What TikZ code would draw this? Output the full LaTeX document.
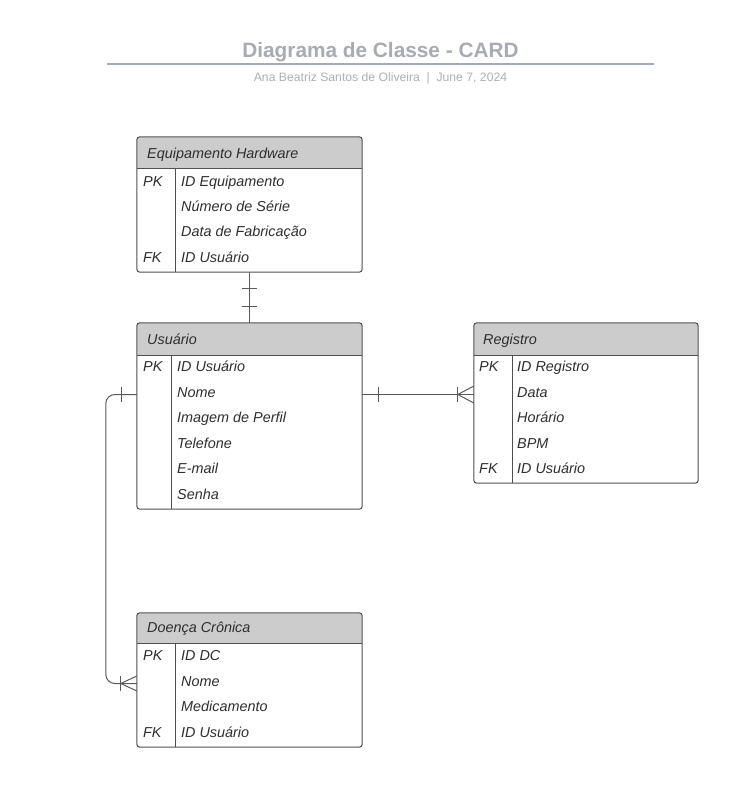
\documentclass[tikz,border=0pt]{standalone}
\usepackage{fontspec}
\setmainfont{Liberation Sans}
\definecolor{titlec}{HTML}{A6ABB4}
\definecolor{rulec}{HTML}{A3ABBA}
\definecolor{subc}{HTML}{ABAFB7}
\definecolor{txtc}{HTML}{2E2E2E}
\definecolor{bordc}{HTML}{505050}
\definecolor{connc}{HTML}{5A5A5A}
\definecolor{hdrc}{HTML}{CCCCCC}
\tikzset{
  tblbox/.style={rectangle, draw=none, inner sep=0pt},
  border/.style={draw=bordc, line width=1pt, rounded corners=3pt},
  txt/.style={anchor=base west, inner sep=0pt, font=\fontsize{14.4}{16}\selectfont\itshape, text=txtc},
  conn/.style={draw=connc, line width=1pt},
}
\newcommand\erframe[3]{%
  \begin{scope}
    \clip[rounded corners=3pt] (#1.north west) rectangle (#1.south east);
    \fill[hdrc] (#1.north west) rectangle ([yshift=-#2pt]#1.north east);
  \end{scope}
  \draw[draw=bordc, line width=1pt] ([yshift=-#2pt]#1.north west) -- ([yshift=-#2pt]#1.north east);
  \draw[draw=bordc, line width=1pt] ([xshift=#3pt,yshift=-#2pt]#1.north west) -- ([xshift=#3pt]#1.south west);
  \draw[border] (#1.north west) rectangle (#1.south east);
}
\begin{document}
\begin{tikzpicture}[x=1pt,y=-1pt]
\useasboundingbox (0,0) rectangle (742,801);
% title
\node[anchor=base, inner sep=0pt, font=\fontsize{20.8}{24}\selectfont\bfseries, text=titlec] (title) at (380.5,57) {Diagrama de Classe - CARD};
\draw[rulec, line width=2pt] (107,63.5) coordinate (r1) -- (654,63.5) coordinate (r2);
\node[anchor=base, inner sep=0pt, font=\fontsize{12.2}{14}\selectfont, text=subc] (sub) at (380.5,81) {Ana Beatriz Santos de Oliveira\hspace{0.55em}|\hspace{0.55em}June 7, 2024};

% tables
\node[tblbox, minimum width=225pt, minimum height=135pt] (eh) at (249.5,204.5) {};
\node[tblbox, minimum width=225pt, minimum height=186pt] (us) at (249.5,416) {};
\node[tblbox, minimum width=224pt, minimum height=160pt] (rg) at (586,403) {};
\node[tblbox, minimum width=225pt, minimum height=134pt] (dc) at (249.5,680) {};

\erframe{eh}{32}{39}
\erframe{us}{33}{35}
\erframe{rg}{33}{39}
\erframe{dc}{31}{39}

% Equipamento Hardware
\node[txt] (eh-h) at (147,158) {Equipamento Hardware};
\node[txt] (eh-pk) at (143,186) {PK};
\node[txt] (eh-1) at (181,186) {ID Equipamento};
\node[txt] (eh-2) at (181,211) {Número de Série};
\node[txt] (eh-3) at (181,236.5) {Data de Fabricação};
\node[txt] (eh-fk) at (143,262) {FK};
\node[txt] (eh-4) at (181,262) {ID Usuário};

% Usuario
\node[txt] (us-h) at (147,344) {Usuário};
\node[txt] (us-pk) at (143,371.5) {PK};
\node[txt] (us-1) at (177,371.5) {ID Usuário};
\node[txt] (us-2) at (177,397) {Nome};
\node[txt] (us-3) at (177,422.5) {Imagem de Perfil};
\node[txt] (us-4) at (177,448) {Telefone};
\node[txt] (us-5) at (177,473.5) {E-mail};
\node[txt] (us-6) at (177,499) {Senha};

% Registro
\node[txt] (rg-h) at (483,344) {Registro};
\node[txt] (rg-pk) at (479,371.5) {PK};
\node[txt] (rg-1) at (517,371.5) {ID Registro};
\node[txt] (rg-2) at (517,397) {Data};
\node[txt] (rg-3) at (517,422.5) {Horário};
\node[txt] (rg-4) at (517,448) {BPM};
\node[txt] (rg-fk) at (479,473.5) {FK};
\node[txt] (rg-5) at (517,473.5) {ID Usuário};

% Doenca Cronica
\node[txt] (dc-h) at (147,632.5) {Doença Crônica};
\node[txt] (dc-pk) at (143,660) {PK};
\node[txt] (dc-1) at (181,660) {ID DC};
\node[txt] (dc-2) at (181,686) {Nome};
\node[txt] (dc-3) at (181,711.5) {Medicamento};
\node[txt] (dc-fk) at (143,737) {FK};
\node[txt] (dc-4) at (181,737) {ID Usuário};

% connector EH - US (one to one)
\draw[conn] (eh.south) -- (us.north);
\draw[conn] ([shift={(-7.5,16)}]eh.south) -- ([shift={(7.5,16)}]eh.south);
\draw[conn] ([shift={(-7.5,-16)}]us.north) -- ([shift={(7.5,-16)}]us.north);

% connector US - RG (one to many)
\coordinate (ur1) at ([yshift=21.5pt]us.east);
\coordinate (ur2) at ([yshift=8.5pt]rg.west);
\draw[conn] (ur1) -- (ur2);
\draw[conn] ([shift={(16,-7.5)}]ur1) -- ([shift={(16,7.5)}]ur1);
\draw[conn] ([shift={(-16,-7.5)}]ur2) -- ([shift={(-16,7.5)}]ur2);
\draw[conn] ([shift={(0,-8.5)}]ur2) -- ([shift={(-16,0)}]ur2) -- ([shift={(0,8.5)}]ur2);

% connector US - DC (one to many)
\coordinate (ud1) at ([yshift=21.5pt]us.west);
\coordinate (ud2) at ([yshift=-3.5pt]dc.west);
\draw[conn, rounded corners=9pt] (ud1) -- ++(-31,0) |- (ud2);
\draw[conn] ([shift={(-15,-7.5)}]ud1) -- ([shift={(-15,7.5)}]ud1);
\draw[conn] ([shift={(-16,-7.5)}]ud2) -- ([shift={(-16,7.5)}]ud2);
\draw[conn] ([shift={(0,-7.5)}]ud2) -- ([shift={(-16,0)}]ud2) -- ([shift={(0,7.5)}]ud2);
\end{tikzpicture}
\end{document}
